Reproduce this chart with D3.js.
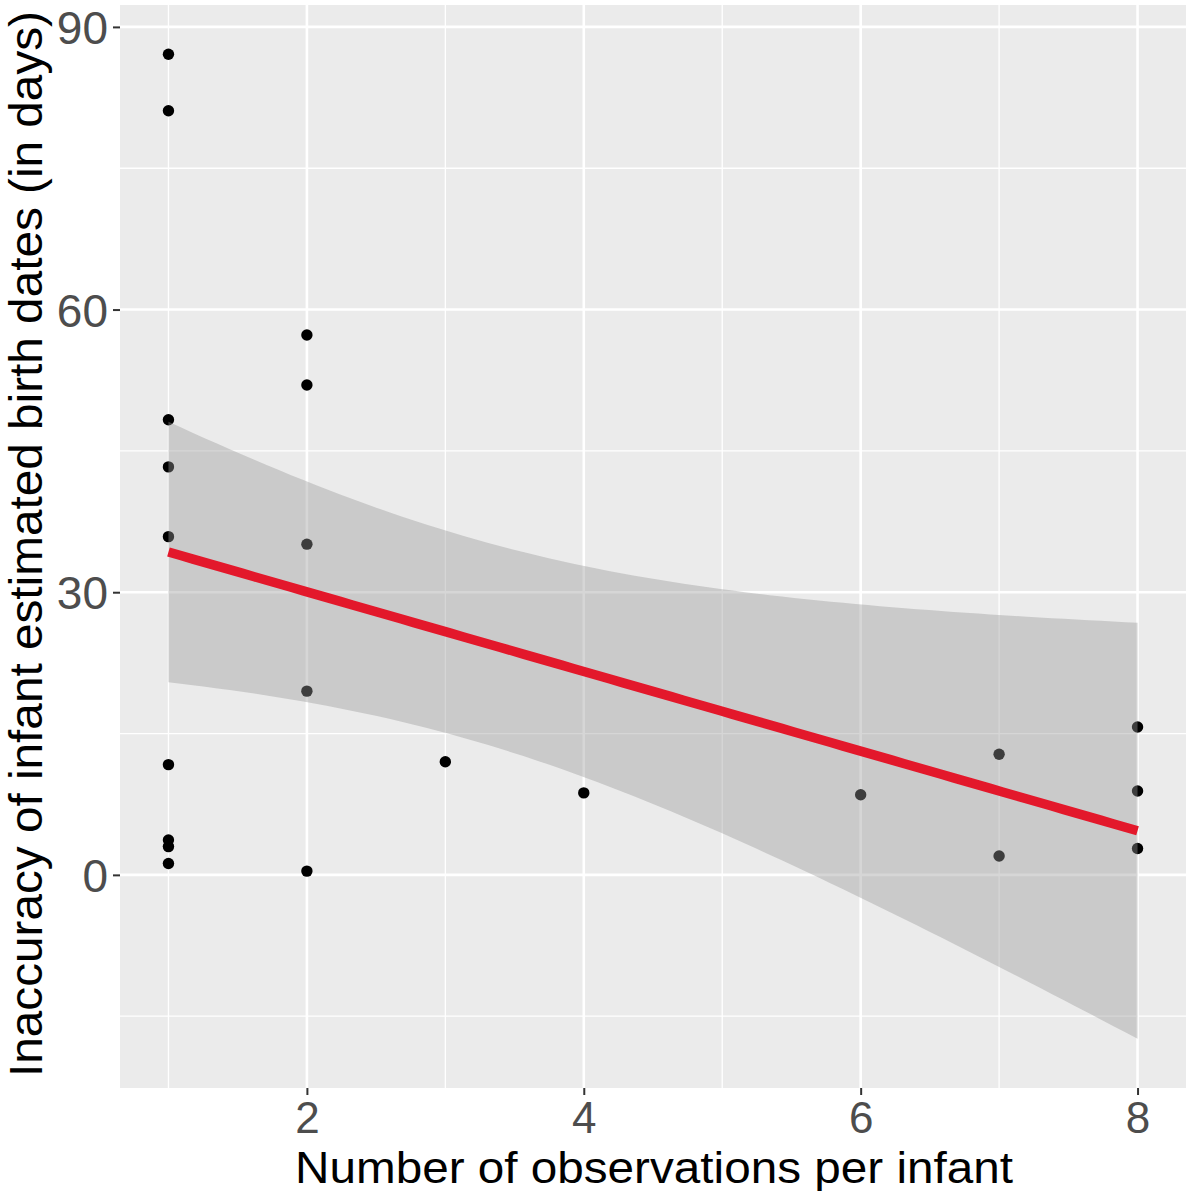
<!DOCTYPE html>
<html><head><meta charset="utf-8">
<script src="https://cdn.jsdelivr.net/npm/d3@7"></script>
<style>body{margin:0;background:#fff}svg{display:block}text{font-family:"Liberation Sans",Arial,sans-serif}</style>
</head><body>
<script>
// Observations: x = number of observations per infant, y = inaccuracy (days)
const obsX = [1,1,1,1,1,1,1,1,1, 2,2,2,2,2, 3, 4, 6, 7,7, 8,8,8];
const obsY = [87.1,81.1,48.3,43.3,35.9,11.7,3.7,3.0,1.2, 57.3,52.0,35.1,19.5,0.4, 12.0, 8.7, 8.5, 12.8,2.0, 15.7,8.9,2.8];
const xTicks = [2,4,6,8];
const xMinor = [1,3,5,7];
const yTicks = [0,30,60,90];
const yMinor = [-15,15,45,75];
const xTitle = "Number of observations per infant";
const yTitle = "Inaccuracy of infant estimated birth dates (in days)";
const tCrit = 2.085963; // t(0.975, df = 20)

const W = 1189, H = 1191;
const P = {l:120, r:1186, t:5, b:1088};

// linear model fit (geom_smooth method = "lm")
const n = obsX.length;
const mx = d3.mean(obsX), my = d3.mean(obsY);
const sxx = d3.sum(obsX, x => (x-mx)*(x-mx));
const sxy = d3.sum(obsX.map((x,i)=>(x-mx)*(obsY[i]-my)));
const b1 = sxy/sxx, b0 = my - b1*mx;
const sse = d3.sum(obsX.map((x,i)=>{const r = obsY[i]-(b0+b1*x); return r*r;}));
const s = Math.sqrt(sse/(n-2));
const xr = d3.extent(obsX);
const grid = d3.range(80).map(i => xr[0] + (xr[1]-xr[0])*i/79);
const fit = grid.map(x => {
  const yh = b0 + b1*x;
  const se = s*Math.sqrt(1/n + (x-mx)*(x-mx)/sxx);
  return {x, y: yh, lo: yh - tCrit*se, hi: yh + tCrit*se};
});

const yMin = Math.min(d3.min(obsY), d3.min(fit, d=>d.lo));
const yMax = Math.max(d3.max(obsY), d3.max(fit, d=>d.hi));
const xe = (xr[1]-xr[0])*0.05, ye = (yMax-yMin)*0.05;
const x = d3.scaleLinear().domain([xr[0]-xe, xr[1]+xe]).range([P.l, P.r]);
const y = d3.scaleLinear().domain([yMin-ye, yMax+ye]).range([P.b, P.t]);

const svg = d3.select("body").append("svg").attr("width", W).attr("height", H);
svg.append("rect").attr("x",P.l).attr("y",P.t).attr("width",P.r-P.l).attr("height",P.b-P.t).attr("fill","#EBEBEB");

const g = svg.append("g");
g.selectAll(".ymin").data(yMinor).join("line").attr("x1",P.l).attr("x2",P.r).attr("y1",d=>y(d)).attr("y2",d=>y(d)).attr("stroke","#fff").attr("stroke-width",1.3);
g.selectAll(".xmin").data(xMinor).join("line").attr("y1",P.t).attr("y2",P.b).attr("x1",d=>x(d)).attr("x2",d=>x(d)).attr("stroke","#fff").attr("stroke-width",1.3);
g.selectAll(".ymaj").data(yTicks).join("line").attr("x1",P.l).attr("x2",P.r).attr("y1",d=>y(d)).attr("y2",d=>y(d)).attr("stroke","#fff").attr("stroke-width",2.6);
g.selectAll(".xmaj").data(xTicks).join("line").attr("y1",P.t).attr("y2",P.b).attr("x1",d=>x(d)).attr("x2",d=>x(d)).attr("stroke","#fff").attr("stroke-width",2.6);

// points (drawn beneath the smoother, as in ggplot layer order)
svg.append("g").selectAll("circle").data(obsX.map((d,i)=>[d,obsY[i]])).join("circle")
  .attr("cx",d=>x(d[0])).attr("cy",d=>y(d[1])).attr("r",5.7).attr("fill","#000");

svg.append("path").datum(fit).attr("fill","#999999").attr("fill-opacity",0.4)
  .attr("d", d3.area().x(d=>x(d.x)).y0(d=>y(d.lo)).y1(d=>y(d.hi)));
svg.append("path").datum(fit).attr("fill","none").attr("stroke","#E3182B").attr("stroke-width",9.5)
  .attr("d", d3.line().x(d=>x(d.x)).y(d=>y(d.y)));

// axes
const ax = svg.append("g").attr("transform",`translate(0,${P.b})`).call(d3.axisBottom(x).tickValues(xTicks).tickSize(7).tickPadding(4).tickFormat(d3.format("d")));
const ay = svg.append("g").attr("transform",`translate(${P.l},0)`).call(d3.axisLeft(y).tickValues(yTicks).tickSize(7).tickPadding(4).tickFormat(d3.format("d")));
[ax, ay].forEach(a => {
  a.select(".domain").remove();
  a.selectAll(".tick line").attr("stroke","#333").attr("stroke-width",2);
  a.selectAll(".tick text").attr("fill","#4D4D4D").attr("font-size",46).attr("font-family","Liberation Sans, Arial, sans-serif");
});
ax.selectAll(".tick text").attr("font-size",44).attr("dy",null).attr("y",45);
ay.selectAll(".tick text").attr("dy","0.36em").attr("x",-12);

svg.append("text").attr("x",654).attr("y",1183).attr("text-anchor","middle").attr("font-size",44).attr("fill","#000")
  .attr("textLength",718).attr("lengthAdjust","spacingAndGlyphs").text(xTitle);
svg.append("text").attr("transform",`translate(42,${544}) rotate(-90)`).attr("text-anchor","middle").attr("font-size",46).attr("fill","#000")
  .attr("textLength",1066).attr("lengthAdjust","spacingAndGlyphs").text(yTitle);
</script>
</body></html>
